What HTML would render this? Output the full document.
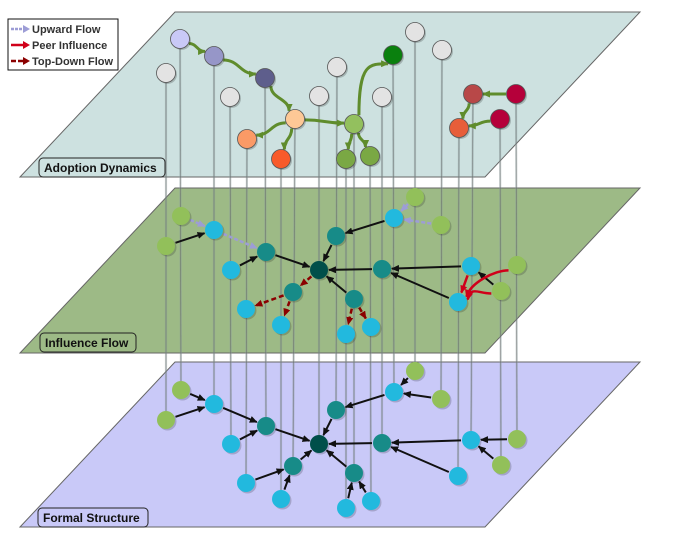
<!DOCTYPE html>
<html><head><meta charset="utf-8"><style>
html,body{margin:0;padding:0;background:#fff;}
svg{display:block;font-family:"Liberation Sans",sans-serif;}
</style></head><body>
<svg id="chart" width="675" height="534" viewBox="0 0 675 534">
<defs>
<marker id="mk" markerUnits="userSpaceOnUse" markerWidth="8" markerHeight="7" refX="7" refY="3.5" orient="auto"><path d="M0,0L8,3.5L0,7z" fill="#111"/></marker>
<marker id="mr" markerUnits="userSpaceOnUse" markerWidth="8" markerHeight="7" refX="7" refY="3.5" orient="auto"><path d="M0,0L8,3.5L0,7z" fill="#d0001a"/></marker>
<marker id="md" markerUnits="userSpaceOnUse" markerWidth="8" markerHeight="7" refX="7" refY="3.5" orient="auto"><path d="M0,0L8,3.5L0,7z" fill="#8b0000"/></marker>
<marker id="mu" markerUnits="userSpaceOnUse" markerWidth="8" markerHeight="7" refX="7" refY="3.5" orient="auto"><path d="M0,0L8,3.5L0,7z" fill="#9d9dd6"/></marker>
<marker id="mg" markerUnits="userSpaceOnUse" markerWidth="8" markerHeight="7" refX="7" refY="3.5" orient="auto"><path d="M0,0L8,3.5L0,7z" fill="#5f8c2c"/></marker>
</defs>
<g id="planes"></g><g id="vlines"></g><g id="edges"></g><g id="nodes"></g><g id="labels"></g>
</svg>
<script>
const NS="http://www.w3.org/2000/svg";
const nodeIds=["A1","A2","B","C","D","E","F","G","H","I","J","K","L","M","N","O","P","Q","R","S","T"];
const nodeX=[181,166,214,231,266,319,336,293,246,281,354,346,371,382,394,415,441,471,458,517,501];
const topX=[180,166,214,230,265,319,337,295,247,281,354,346,370,382,393,415,442,473,459,516,500];
const topY=[39,73,56,97,78,96,67,119,139,159,124,159,156,97,55,32,50,94,128,94,119];
const botY=[390,420,404,444,426,444,410,466,483,499,473,508,501,443,392,371,399,440,476,439,465];
const topColor=["#c9c9f7","#e3e3e3","#9696c8","#e3e3e3","#5e5e8c","#e3e3e3","#e3e3e3","#fdc896","#fb9a66","#f85a2a","#93c05e","#7aa844","#7aa844","#e3e3e3","#0a800e","#e3e3e3","#e3e3e3","#b84848","#e75e3a","#b5003a","#b5003a"];
const layerColor=["#92c05a","#92c05a","#22b9de","#22b9de","#178b88","#004f4a","#178b88","#178b88","#22b9de","#22b9de","#178b88","#22b9de","#22b9de","#178b88","#22b9de","#92c05a","#92c05a","#22b9de","#22b9de","#92c05a","#92c05a"];
const midShift=174;
const formalEdges=[["A1","B"],["A2","B"],["B","D"],["C","D"],["D","E"],["F","E"],["G","E"],["J","E"],["M","E"],["N","F"],["O","N"],["P","N"],["Q","M"],["R","M"],["S","Q"],["T","Q"],["H","G"],["I","G"],["K","J"],["L","J"]];
const upEdges=[["A1","B"],["B","D"],["O","N"],["P","N"]];
const blackMid=[["A2","B"],["C","D"],["D","E"],["F","E"],["N","F"],["M","E"],["J","E"],["Q","M"],["R","M"],["T","Q"]];
const downEdges=[["E","G"],["G","H"],["G","I"],["J","K"],["J","L"]];
const peerEdges=[["Q","R"],["S","R"],["T","R"]];
const adoptEdges=[["A1","B"],["B","D"],["D","G"],["G","H"],["G","I"],["G","J"],["J","K"],["J","L"],["J","N"],["Q","R"],["S","Q"],["T","R"]];

const ix=id=>nodeIds.indexOf(id);
function mk(tag,attrs,parent){const e=document.createElementNS(NS,tag);for(const k in attrs)e.setAttribute(k,attrs[k]);document.getElementById(parent).appendChild(e);return e;}

const planes=[["bottom",362,"#c9c9f8","formal-structure-plane"],["middle",188,"#9dba86","influence-flow-plane"],["top",12,"#cde1e0","adoption-dynamics-plane"]];
planes.forEach(p=>{const t=p[1],b=t+165;
 const e=mk("polygon",{points:`20,${b} 175,${t} 640,${t} 485,${b}`,fill:p[2],stroke:"#666","stroke-width":1},"planes");
 
 
});
nodeIds.forEach((id,i)=>{
 const e=mk("line",{x1:topX[i],y1:topY[i],x2:nodeX[i],y2:botY[i],stroke:"#8a9a9a","stroke-width":2.2,opacity:0.45},"vlines");
 
 
 mk("line",{x1:topX[i],y1:topY[i],x2:nodeX[i],y2:botY[i],stroke:"#555","stroke-width":0.6,opacity:0.6},"vlines");
});
function shorten(x1,y1,x2,y2,r){const dx=x2-x1,dy=y2-y1,d=Math.hypot(dx,dy);return[x1+dx/d*r,y1+dy/d*r,x2-dx/d*r,y2-dy/d*r];}
function edge(a,b,layer,style,name,mode){
 const i=ix(a),j=ix(b);
 let x1,y1,x2,y2;
 if(layer==="top"){x1=topX[i];y1=topY[i];x2=topX[j];y2=topY[j];}
 else{const s=layer==="mid"?midShift:0;x1=nodeX[i];y1=botY[i]-s;x2=nodeX[j];y2=botY[j]-s;}
 const c=shorten(x1,y1,x2,y2,10);
 let d;
 if(mode==="s"){const mx=(c[0]+c[2])/2;d=`M${c[0]},${c[1]} C${mx},${c[1]} ${mx},${c[3]} ${c[2]},${c[3]}`;}
 else if(mode==="v"){d=`M${c[0]},${c[1]} C${c[0]},${(c[1]+c[3])/2} ${c[2]},${(c[1]+c[3])/2} ${c[2]},${c[3]}`;}
 else if(mode==="arc"){d=`M${c[0]},${c[1]} C${c[0]-14},${c[1]} ${c[2]+4},${c[3]-14} ${c[2]},${c[3]}`;}
 else d=`M${c[0]},${c[1]} L${c[2]},${c[3]}`;
 const e=mk("path",Object.assign({d:d,fill:"none"},style),"edges");
 
 
}
formalEdges.forEach(p=>edge(p[0],p[1],"bot",{stroke:"#111","stroke-width":2,"marker-end":"url(#mk)"},"formal-edge"));
blackMid.forEach(p=>edge(p[0],p[1],"mid",{stroke:"#111","stroke-width":2,"marker-end":"url(#mk)"},"influence-edge"));
upEdges.forEach(p=>edge(p[0],p[1],"mid",{stroke:"#9d9dd6","stroke-width":2.5,"stroke-dasharray":"4,2","marker-end":"url(#mu)"},"upward-flow"));
downEdges.forEach(p=>edge(p[0],p[1],"mid",{stroke:"#8b0000","stroke-width":2.5,"stroke-dasharray":"5,3","marker-end":"url(#md)"},"top-down-flow"));
peerEdges.forEach((p,k)=>edge(p[0],p[1],"mid",{stroke:"#d0001a","stroke-width":2.5,"marker-end":"url(#mr)"},"peer-influence",k===0?"":"arc"));
adoptEdges.forEach(p=>{const i=ix(p[0]),j=ix(p[1]);const dx=Math.abs(topX[j]-topX[i]),dy=Math.abs(topY[j]-topY[i]);
 const mode=p[1]==="N"?"arc2":(dy>dx?"v":"s");
 if(mode==="arc2"){const c=shorten(topX[i],topY[i],topX[j],topY[j],10);
  const e=mk("path",{d:`M${c[0]},${c[1]} C${c[0]},${c[3]} ${c[0]+10},${c[3]} ${c[2]},${c[3]}`,fill:"none",stroke:"#5f8c2c","stroke-width":3,"marker-end":"url(#mg)"},"edges");
  
  
 } else edge(p[0],p[1],"top",{stroke:"#5f8c2c","stroke-width":3,"marker-end":"url(#mg)"},"adoption-edge",mode);});

nodeIds.forEach((id,i)=>{
 [["bot",botY[i],layerColor[i]],["mid",botY[i]-midShift,layerColor[i]]].forEach(l=>{
  mk("circle",{cx:nodeX[i]+1.5,cy:l[1]+1.5,r:9,fill:"#000",opacity:0.18},"nodes");
  const e=mk("circle",{cx:nodeX[i],cy:l[1],r:9,fill:l[2]},"nodes");
  
  
 });
 mk("circle",{cx:topX[i]+1.5,cy:topY[i]+1.5,r:9.5,fill:"#000",opacity:0.2},"nodes");
 const e=mk("circle",{cx:topX[i],cy:topY[i],r:9.5,fill:topColor[i],stroke:"#555","stroke-width":0.8},"nodes");
 
 
});
[["Adoption Dynamics",39,158,126,"#cde1e0","adoption-dynamics-label"],["Influence Flow",40,333,96,"#9dba86","influence-flow-label"],["Formal Structure",38,508,110,"#c9c9f8","formal-structure-label"]].forEach(l=>{
 const g=document.createElementNS(NS,"g");document.getElementById("labels").appendChild(g);
 
 
 const r=document.createElementNS(NS,"rect");
 [["x",l[1]],["y",l[2]],["width",l[3]],["height",19],["rx",4],["fill",l[4]],["stroke","#222"],["stroke-width",1]].forEach(a=>r.setAttribute(a[0],a[1]));g.appendChild(r);
 const t=document.createElementNS(NS,"text");
 [["x",l[1]+5],["y",l[2]+14],["font-size",12],["font-weight","bold"],["fill","#111"]].forEach(a=>t.setAttribute(a[0],a[1]));t.textContent=l[0];g.appendChild(t);
});
</script>
<svg style="position:absolute;left:0;top:0" width="130" height="80">
<rect x="8" y="19" width="110" height="51" fill="#fff" stroke="#111" stroke-width="1"/>
<g><line x1="11" y1="29" x2="24" y2="29" stroke="#9d9dd6" stroke-width="2.5" stroke-dasharray="3,1"/><path d="M23,25L30,29L23,33z" fill="#9d9dd6"/><text x="32" y="33" font-family="Liberation Sans,sans-serif" font-size="11" font-weight="bold" fill="#333">Upward Flow</text></g>
<g><line x1="11" y1="45" x2="24" y2="45" stroke="#d0001a" stroke-width="2.5"/><path d="M23,41L30,45L23,49z" fill="#d0001a"/><text x="32" y="49" font-family="Liberation Sans,sans-serif" font-size="11" font-weight="bold" fill="#333">Peer Influence</text></g>
<g><line x1="11" y1="61" x2="24" y2="61" stroke="#8b0000" stroke-width="2.5" stroke-dasharray="5,2"/><path d="M23,57L30,61L23,65z" fill="#8b0000"/><text x="32" y="65" font-family="Liberation Sans,sans-serif" font-size="11" font-weight="bold" fill="#333">Top-Down Flow</text></g>
</svg>
</body></html>
